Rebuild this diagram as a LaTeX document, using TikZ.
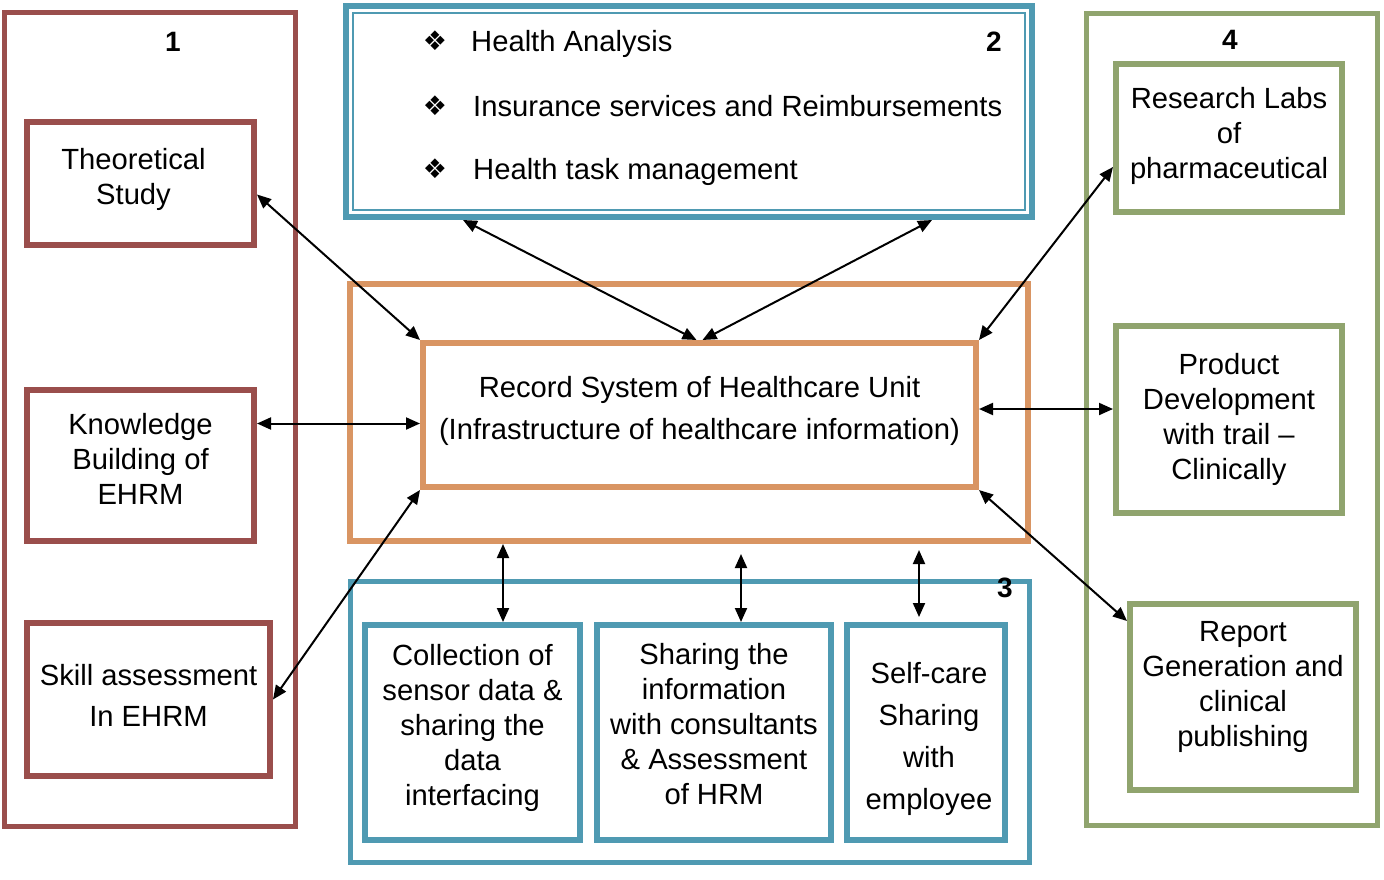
\documentclass[tikz,border=0pt]{standalone}
\usepackage{fontspec}
\setmainfont{Liberation Sans}
\newfontfamily\symfont{DejaVu Sans}
\usetikzlibrary{arrows.meta}
\definecolor{cbrown}{HTML}{9A4E4C}
\definecolor{cteal}{HTML}{4F9AB2}
\definecolor{corange}{HTML}{D99563}
\definecolor{cgreen}{HTML}{90A46E}
\begin{document}
\begin{tikzpicture}[x=1pt,y=-1pt,
  every node/.style={font=\fontsize{29.2}{35}\selectfont, align=center, inner sep=0pt},
  bx/.style={draw=#1, rectangle, line width=6pt},
  frame/.style={draw=#1, rectangle, line width=5pt},
  numlabel/.style={font=\fontsize{28}{30}\selectfont\bfseries},
  arr/.style={{Triangle[length=14pt,width=12pt]}-{Triangle[length=14pt,width=12pt]}, line width=2pt, black},
  bul/.style={font=\symfont\fontsize{27}{27}\selectfont}
]
\useasboundingbox (0,0) rectangle (1384,879);

% group 1
\node[frame=cbrown, minimum width=291pt, minimum height=814pt] (g1) at (149.5,419) {};
\node[numlabel] (n1) at (173,42) {1};
\node[bx=cbrown, minimum width=227pt, minimum height=123pt] (theo) at (140.5,183.5) {};
\node (theot) at (133.5,179.5) {Theoretical\\Study};
\node[bx=cbrown, minimum width=227pt, minimum height=151pt] (know) at (140.5,465.5) {};
\node (knowt) at (140.5,458.5) {Knowledge\\Building of\\EHRM};
\node[bx=cbrown, minimum width=243pt, minimum height=153pt] (skill) at (148.5,699.5) {};
\node (skillt) at (148.5,695.5) {Skill assessment\\[6pt]In EHRM};

% group 2
\node[draw=cteal, rectangle, line width=6pt, minimum width=686pt, minimum height=211pt] (g2) at (689,111.5) {};
\draw[cteal, line width=2pt] ([shift={(10,10)}]g2.north west) rectangle ([shift={(-10,-10)}]g2.south east);
\node[numlabel] (n2) at (994,42) {2};
\node[bul] (b1) at (435,41) {❖};
\node[bul] (b2) at (435,106) {❖};
\node[bul] (b3) at (435,169) {❖};
\node[anchor=base west] (i1) at (471,51) {Health Analysis};
\node[anchor=base west] (i2) at (473,116) {Insurance services and Reimbursements};
\node[anchor=base west] (i3) at (473,179) {Health task management};

% centre
\node[bx=corange, minimum width=678pt, minimum height=257pt] (outer) at (689,412.5) {};
\node[bx=corange, minimum width=553pt, minimum height=144pt] (rec) at (699.5,415) {};
\node (rect) at (699.5,410.5) {Record System of Healthcare Unit\\[7pt](Infrastructure of healthcare information)};

% group 3
\node[frame=cteal, minimum width=679pt, minimum height=281pt] (g3) at (689.5,721.5) {};
\node[numlabel] (n3) at (1005,588) {3};
\node[bx=cteal, minimum width=215pt, minimum height=215pt] (c1) at (472.5,732.5) {};
\node (c1t) at (472.5,727.5) {Collection of\\sensor data \&\\sharing the\\data\\interfacing};
\node[bx=cteal, minimum width=234pt, minimum height=215pt] (c2) at (714,732.5) {};
\node (c2t) at (714,724.5) {Sharing the\\information\\with consultants\\\& Assessment\\of HRM};
\node[bx=cteal, minimum width=158pt, minimum height=215pt] (c3) at (926,732.5) {};
\node (c3t) at (929,738.5) {Self-care\\[7pt]Sharing\\[7pt]with\\[7pt]employee};

% group 4
\node[frame=cgreen, minimum width=291pt, minimum height=812pt] (g4) at (1231.5,419) {};
\node[numlabel] (n4) at (1230,40) {4};
\node[bx=cgreen, minimum width=226pt, minimum height=148pt] (res) at (1229,138) {};
\node (rest) at (1229,136) {Research Labs\\of\\pharmaceutical};
\node[bx=cgreen, minimum width=226pt, minimum height=187pt] (prod) at (1229,419.5) {};
\node (prodt) at (1229,419.5) {Product\\Development\\with trail --\\Clinically};
\node[bx=cgreen, minimum width=226pt, minimum height=186pt] (rep) at (1243,697) {};
\node (rept) at (1243,687) {Report\\Generation and\\clinical\\publishing};

% connectors
\draw[arr] ([shift={(0,11)}]theo.east) -- (rec.north west);
\draw[arr] ([shift={(0,-42)}]know.east) -- ([shift={(0,8.5)}]rec.west);
\draw[arr] (skill.east) -- (rec.south west);
\draw[arr] ([shift={(-226,0)}]g2.south) -- ([shift={(-3,0)}]rec.north);
\draw[arr] ([shift={(243,0)}]g2.south) -- ([shift={(3,0)}]rec.north);
\draw[arr] ([shift={(0,29)}]res.west) -- (rec.north east);
\draw[arr] ([shift={(0,-6)}]rec.east) -- ([shift={(0,-10.5)}]prod.west);
\draw[arr] ([shift={(0,20)}]rep.north west) -- (rec.south east);
\coordinate (v1b) at ([shift={(30.5,0)}]c1.north);
\draw[arr] (v1b |- outer.south) -- (v1b);
\coordinate (v2b) at ([shift={(27,0)}]c2.north);
\coordinate (v2t) at (741,554);
\draw[arr] (v2t) -- (v2b);
\coordinate (v3b) at (919,617);
\coordinate (v3t) at (919,550);
\draw[arr] (v3t) -- (v3b);
\end{tikzpicture}
\end{document}
